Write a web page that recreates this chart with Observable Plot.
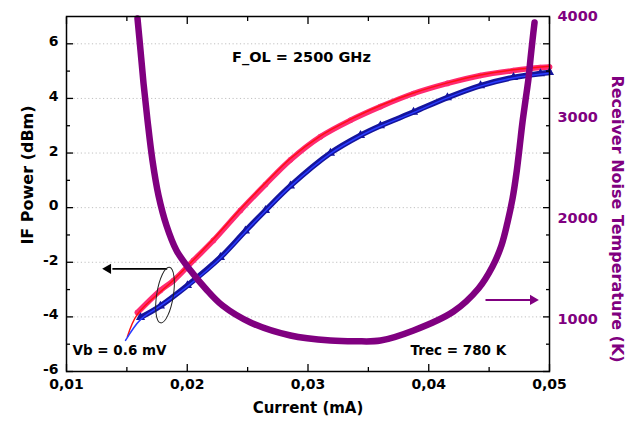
<!DOCTYPE html>
<html><head><meta charset="utf-8">
<script src="https://cdn.jsdelivr.net/npm/d3@7"></script>
<script src="https://cdn.jsdelivr.net/npm/@observablehq/plot@0.6"></script>
<style>body{margin:0;background:#fff;} #chart svg{display:block;}</style>
</head><body><div id="chart"></div>
<script>
// ---- data ----
// measured IF power, first curve (pink dots)
const pinkX = [0.01588,0.01778,0.01886,0.02052,0.02217,0.02441,0.02648,0.02855,0.03104,0.03352,0.03600,0.03874,0.04155,0.04429,0.04702,0.04925,0.05];
const pinkP = [-3.84,-3.03,-2.67,-1.93,-1.20,-0.10,0.85,1.75,2.60,3.20,3.70,4.18,4.55,4.84,5.02,5.13,5.15];
// measured IF power, second curve (blue triangles)
const blueX = [0.01613,0.01778,0.02002,0.02275,0.02482,0.02648,0.02855,0.03186,0.03435,0.03600,0.03874,0.04155,0.04429,0.04702,0.04925,0.05];
const blueP = [-4.02,-3.60,-2.85,-1.82,-0.85,-0.10,0.80,2.00,2.65,3.00,3.50,4.03,4.47,4.77,4.91,4.95];
// fitted lines
const redFitX = [0.01505,0.01588,0.01886,0.02217,0.02441,0.02648,0.02855,0.03104,0.03352,0.03600,0.03874,0.04155,0.04429,0.04702,0.05];
const redFitP = [-4.72,-3.90,-2.65,-1.15,-0.05,0.90,1.80,2.63,3.23,3.74,4.20,4.57,4.86,5.05,5.18];
const blueFitX = [0.01489,0.01613,0.01778,0.02002,0.02275,0.02482,0.02648,0.02855,0.03186,0.03435,0.03600,0.03874,0.04155,0.04429,0.04702,0.05];
const blueFitP = [-4.86,-4.10,-3.60,-2.88,-1.85,-0.88,-0.12,0.78,1.98,2.63,2.98,3.48,4.02,4.45,4.75,4.92];
// receiver noise temperature (K)
const noiseX = [0.01588,0.01613,0.01638,0.01671,0.01712,0.01762,0.01828,0.01911,0.02027,0.02151,0.02292,0.02524,0.02855,0.03186,0.03393,0.03600,0.03874,0.04205,0.04412,0.04528,0.04602,0.04652,0.04694,0.04727,0.04752,0.04776,0.04801,0.04826,0.04843,0.04859,0.04876];
const noiseT = [3980,3663,3336,2969,2572,2225,1928,1680,1481,1303,1134,966,837,787,780,787,887,1075,1303,1521,1729,1957,2195,2453,2701,2949,3167,3385,3584,3762,3940];

// axes
const xMajor = [0.01,0.02,0.03,0.04,0.05];
const xMinor = [0.015,0.025,0.035,0.045];
const yMajor = [-6,-4,-2,0,2,4,6];
const yMinor = [-5,-3,-1,1,3,5];
const yGrid = [-4,-2,0,2,4,6];
const tTicks = [1000,2000,3000,4000];
const yDomain = [-6,7];
const tDomain = [480,4000];

// annotations
const notes = [
  {x:0.02946, y:5.5, text:"F_OL = 2500 GHz", anchor:"middle"},
  {x:0.0105, y:-5.25, text:"Vb = 0.6 mV", anchor:"start"},
  {x:0.03849, y:-5.25, text:"Trec = 780 K", anchor:"start"}
];
const blackArrow = {x1:0.01834, x2:0.0138, y:-2.24, head:0.013445};
const purpleArrow = {x1:0.0447, x2:0.0485, T:1190, head:0.04863};
const ellipse = {x:0.0182, y:-3.22, hx:0.00069, hy:1.03, tilt:9};

const toP = T => yDomain[0] + (T - tDomain[0]) * (yDomain[1]-yDomain[0]) / (tDomain[1]-tDomain[0]);
const fromP = P => tDomain[0] + (P - yDomain[0]) * (tDomain[1]-tDomain[0]) / (yDomain[1]-yDomain[0]);

const pink = pinkX.map((x,i)=>({x, y:pinkP[i]}));
const blue = blueX.map((x,i)=>({x, y:blueP[i]}));
const redFit = redFitX.map((x,i)=>({x, y:redFitP[i]}));
const blueFit = blueFitX.map((x,i)=>({x, y:blueFitP[i]}));
const noise = noiseX.map((x,i)=>({x, y:toP(noiseT[i])}));

const PURPLE = "#800080";
const font = "'DejaVu Sans', Verdana, sans-serif";
const fmtX = d => d3.format(".2f")(d).replace(".", ",");

const ellipseMark = (index, scales) => {
  const sx = scales.x, sy = scales.y;
  const ns = "http://www.w3.org/2000/svg";
  const g = document.createElementNS(ns, "g");
  if (typeof sx !== "function" || typeof sy !== "function") return g;
  const cx = sx(ellipse.x), cy = sy(ellipse.y);
  const rx = Math.abs(sx(ellipse.x + ellipse.hx) - cx);
  const ry = Math.abs(sy(ellipse.y + ellipse.hy) - cy);
  const e = document.createElementNS(ns, "ellipse");
  e.setAttribute("cx", cx); e.setAttribute("cy", cy);
  e.setAttribute("rx", rx); e.setAttribute("ry", ry);
  e.setAttribute("transform", `rotate(${ellipse.tilt} ${cx} ${cy})`);
  e.setAttribute("fill", "none"); e.setAttribute("stroke", "#222"); e.setAttribute("stroke-width", "1");
  g.appendChild(e);
  return g;
};

const chart = Plot.plot({
  width: 636, height: 427,
  marginTop: 16, marginBottom: 56, marginLeft: 66, marginRight: 87,
  x: {domain: [0.01, 0.05]},
  y: {domain: yDomain},
  style: {fontFamily: font, background: "white", overflow: "visible"},
  marks: [
    Plot.gridY(yGrid, {stroke: "#c0c0c0", strokeOpacity: 1, strokeDasharray: "1.2,2.5"}),
    // IF power curves
    Plot.line(pink, {x:"x", y:"y", stroke:"#ff2a72", strokeWidth:5.5, curve:"catmull-rom"}),
    Plot.dot(pink, {x:"x", y:"y", r:2.8, fill:"#ff2a72"}),
    Plot.line(blue, {x:"x", y:"y", stroke:"#14149c", strokeWidth:5.5, curve:"catmull-rom"}),
    Plot.dot(blue, {x:"x", y:"y", r:3.4, symbol:"triangle", fill:"#14149c"}),
    Plot.line(redFit, {x:"x", y:"y", stroke:"#ff1010", strokeWidth:1.5, curve:"catmull-rom"}),
    Plot.line(blueFit, {x:"x", y:"y", stroke:"#2a3cff", strokeWidth:1.5, curve:"catmull-rom"}),
    // noise temperature
    Plot.line(noise, {x:"x", y:"y", stroke:PURPLE, strokeWidth:6.5, curve:"catmull-rom", strokeLinecap:"round"}),
    // annotations
    Plot.link([blackArrow], {x1:"x1", x2:"x2", y1:"y", y2:"y", stroke:"black", strokeWidth:1.8}),
    Plot.dot([blackArrow], {x:"head", y:"y", symbol:"triangle", r:3.8, fill:"black", rotate:-90}),
    Plot.link([purpleArrow], {x1:"x1", x2:"x2", y1:d=>toP(d.T), y2:d=>toP(d.T), stroke:PURPLE, strokeWidth:2}),
    Plot.dot([purpleArrow], {x:"head", y:d=>toP(d.T), symbol:"triangle", r:3.8, fill:PURPLE, rotate:90}),
    ellipseMark,
    Plot.text(notes.filter(d=>d.anchor==="middle"), {x:"x", y:"y", text:"text", textAnchor:"middle", fontSize:14.5, fontWeight:"bold", fill:"black"}),
    Plot.text(notes.filter(d=>d.anchor==="start"), {x:"x", y:"y", text:"text", textAnchor:"start", fontSize:13.5, fontWeight:"bold", fill:"black"}),
    // axes: tick marks (inward)
    Plot.axisY(yMajor, {anchor:"left", tickSize:-7, tickFormat:()=>"", stroke:"black", strokeWidth:1.3, label:null}),
    Plot.axisY(yMinor, {anchor:"left", tickSize:-4, tickFormat:()=>"", stroke:"black", strokeWidth:1.3, label:null}),
    Plot.axisY(yMajor, {anchor:"right", tickSize:-7, tickFormat:()=>"", stroke:"black", strokeWidth:1.3, label:null}),
    Plot.axisY(yMinor, {anchor:"right", tickSize:-4, tickFormat:()=>"", stroke:"black", strokeWidth:1.3, label:null}),
    Plot.axisX(xMajor, {anchor:"bottom", tickSize:-7, tickFormat:()=>"", stroke:"black", strokeWidth:1.3, label:null}),
    Plot.axisX(xMinor, {anchor:"bottom", tickSize:-4, tickFormat:()=>"", stroke:"black", strokeWidth:1.3, label:null}),
    Plot.axisX(xMajor, {anchor:"top", tickSize:-7, tickFormat:()=>"", stroke:"black", strokeWidth:1.3, label:null}),
    Plot.axisX(xMinor, {anchor:"top", tickSize:-4, tickFormat:()=>"", stroke:"black", strokeWidth:1.3, label:null}),
    // axes: tick labels
    Plot.axisY(yMajor, {anchor:"left", tickSize:0, tickPadding:8, tickFormat:d=>String(d), fontSize:14, fontWeight:"bold", fill:"black", label:null, dy:-2}),
    Plot.axisY(tTicks.map(toP), {anchor:"right", tickSize:0, tickPadding:8, tickFormat:d=>String(Math.round(fromP(d))), fontSize:14.5, fontWeight:"bold", fill:PURPLE, label:null}),
    Plot.axisX(xMajor, {anchor:"bottom", tickSize:0, tickPadding:8, tickFormat:fmtX, fontSize:14, fontWeight:"bold", fill:"black", label:null}),
    Plot.frame({stroke:"black", strokeWidth:1.5}),
    // axis titles
    Plot.text(["IF Power (dBm)"], {frameAnchor:"left", textAnchor:"middle", rotate:-90, dx:-39, dy:-19, fontSize:16, fontWeight:"bold", fill:"black"}),
    Plot.text(["Receiver Noise Temperature (K)"], {frameAnchor:"right", textAnchor:"middle", rotate:90, dx:68, dy:25, fontSize:16, fontWeight:"bold", fill:PURPLE}),
    Plot.text(["Current (mA)"], {frameAnchor:"bottom", textAnchor:"middle", dy:41, fontSize:15, fontWeight:"bold", fill:"black"})
  ]
});
document.getElementById("chart").appendChild(chart);
</script>
</body></html>
